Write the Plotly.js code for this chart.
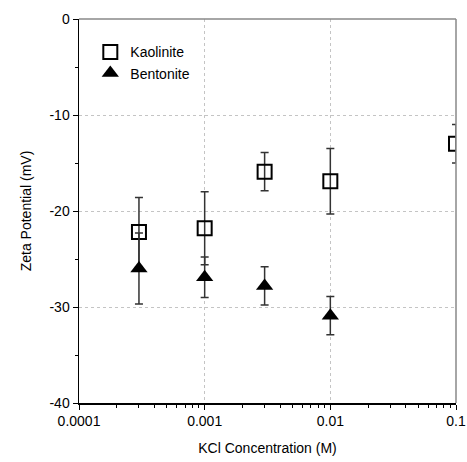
<!DOCTYPE html>
<html><head><meta charset="utf-8">
<script src="https://cdn.plot.ly/plotly-3.0.1.min.js"></script>
<style>body{margin:0;background:#fff}#c{width:467px;height:462px}</style>
</head><body><div id="c"></div>
<script>
const kaoX = [0.0003, 0.001, 0.003, 0.01, 0.1];
const kaoY = [-22.2, -21.8, -15.9, -16.9, -13.0];
const kaoErr = [3.6, 3.8, 2.0, 3.4, 2.0];
const benX = [0.0003, 0.001, 0.003, 0.01];
const benY = [-26.0, -26.9, -27.8, -30.9];
const benErr = [3.7, 2.1, 2.0, 2.0];
const xTicks = [0.0001, 0.001, 0.01, 0.1];
const xTickText = ['0.0001', '0.001', '0.01', '0.1'];
const xMinor = [0.0002,0.0003,0.0004,0.0005,0.0006,0.0007,0.0008,0.0009,
                0.002,0.003,0.004,0.005,0.006,0.007,0.008,0.009,
                0.02,0.03,0.04,0.05,0.06,0.07,0.08,0.09];
const yTicks = [0, -10, -20, -30, -40];
const yTickText = ['0', '-10', '-20', '-30', '-40'];

const fam = 'Liberation Sans, Arial, sans-serif';
const traces = [
  {x: kaoX, y: kaoY, name: 'Kaolinite', mode: 'markers', type: 'scatter',
   marker: {symbol: 'square-open', size: 14, color: '#000', line: {width: 2, color: '#222'}},
   error_y: {type: 'data', array: kaoErr, visible: true, color: '#333', thickness: 1.5, width: 4}},
  {x: benX, y: benY, name: 'Bentonite', mode: 'markers', type: 'scatter',
   marker: {symbol: 'triangle-up', size: 15, color: '#000'},
   error_y: {type: 'data', array: benErr, visible: true, color: '#333', thickness: 1.5, width: 4}}
];
const layout = {
  width: 467, height: 462,
  margin: {l: 79, r: 11, t: 19, b: 59},
  paper_bgcolor: '#fff', plot_bgcolor: '#fff',
  font: {family: fam, size: 14, color: '#000'},
  showlegend: true,
  legend: {x: 0.03, y: 0.955, xanchor: 'left', yanchor: 'top', bgcolor: 'rgba(0,0,0,0)',
           font: {family: fam, size: 14, color: '#000'}, itemwidth: 30, tracegroupgap: 0},
  xaxis: {type: 'log', range: [-4, -1], tickmode: 'array', tickvals: xTicks, ticktext: xTickText,
          ticklabeloverflow: 'allow', automargin: false,
          showgrid: true, gridcolor: '#c4c4c4', griddash: 'dot', gridwidth: 1,
          showline: true, linecolor: '#000', linewidth: 1.5, mirror: false,
          ticks: 'outside', ticklen: 5, tickcolor: '#000',
          tickfont: {family: fam, size: 14},
          minor: {tickmode: 'array', tickvals: xMinor, ticks: 'outside', ticklen: 3, tickcolor: '#000', showgrid: false},
          zeroline: false,
          title: {text: 'KCl Concentration (M)', font: {family: fam, size: 14}, standoff: 15}},
  yaxis: {range: [-40, 0], tickmode: 'array', tickvals: yTicks, ticktext: yTickText,
          showgrid: true, gridcolor: '#c4c4c4', griddash: 'dot', gridwidth: 1,
          showline: true, linecolor: '#000', linewidth: 1.5, mirror: false,
          ticks: 'outside', ticklen: 5, tickcolor: '#000',
          tickfont: {family: fam, size: 14},
          minor: {dtick: 5, ticks: 'outside', ticklen: 3, tickcolor: '#000', showgrid: false},
          zeroline: false,
          title: {text: 'Zeta Potential (mV)', font: {family: fam, size: 14}, standoff: 14}},
  shapes: [
    {type: 'line', xref: 'paper', yref: 'paper', x0: 0, x1: 1, y0: 1, y1: 1, line: {color: '#888', width: 1.5}},
    {type: 'line', xref: 'paper', yref: 'paper', x0: 1, x1: 1, y0: 0, y1: 1, line: {color: '#888', width: 1.5}}
  ]
};
Plotly.newPlot('c', traces, layout, {displayModeBar: false, staticPlot: true});
</script></body></html>
